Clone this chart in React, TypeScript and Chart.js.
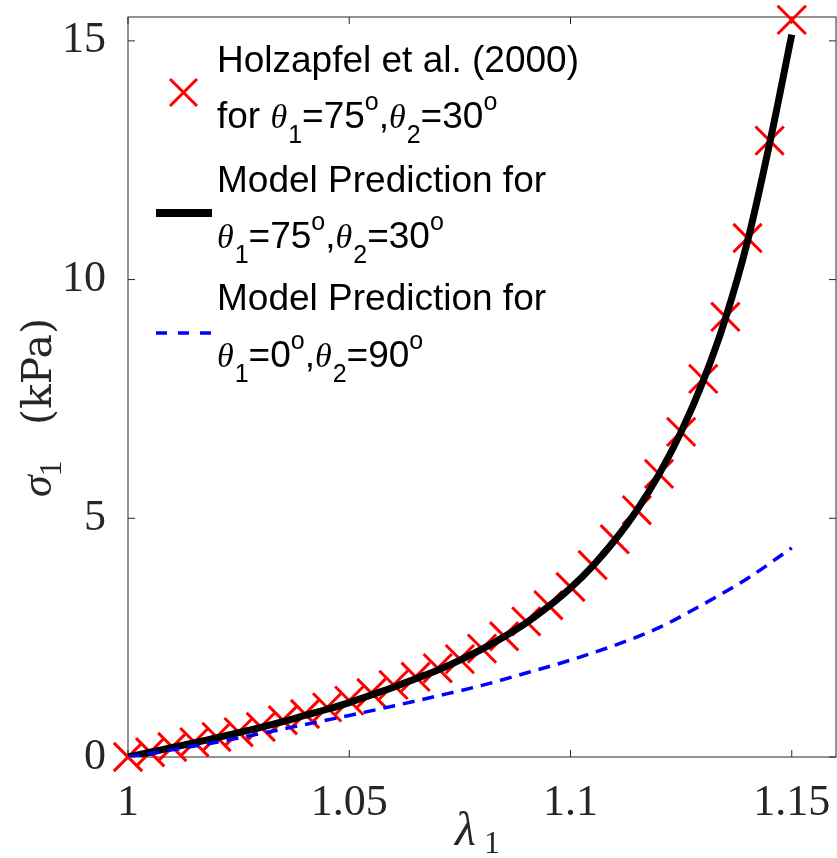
import React, { useEffect, useRef } from "react";
import { Chart, registerables } from "chart.js";

Chart.register(...registerables);

// ---- data ----
const lambdaFine = [
  1.0, 1.005, 1.01, 1.015, 1.02, 1.025, 1.03, 1.035, 1.04, 1.045, 1.05,
  1.055, 1.06, 1.065, 1.07, 1.075, 1.08, 1.085, 1.09, 1.095, 1.1,
  1.105, 1.11, 1.115, 1.12, 1.125, 1.13, 1.135, 1.14, 1.145, 1.15,
];
const holzapfelStress = [
  0.0, 0.1, 0.21, 0.31, 0.42, 0.52, 0.63, 0.77, 0.9, 1.04, 1.18,
  1.34, 1.51, 1.68, 1.86, 2.05, 2.27, 2.53, 2.84, 3.18, 3.56,
  4.02, 4.56, 5.17, 5.93, 6.81, 7.92, 9.22, 10.87, 12.91, 15.44,
];
const modelStress7530 = [
  0.0, 0.1, 0.2, 0.3, 0.4, 0.51, 0.62, 0.74, 0.87, 1.0, 1.14,
  1.3, 1.46, 1.64, 1.82, 2.03, 2.26, 2.52, 2.81, 3.15, 3.54,
  4.0, 4.54, 5.17, 5.92, 6.81, 7.88, 9.18, 10.8, 12.85, 15.13,
];
const lambdaCoarse = [
  1.0, 1.01, 1.02, 1.03, 1.04, 1.05, 1.06, 1.07, 1.08, 1.09, 1.1,
  1.11, 1.12, 1.13, 1.14, 1.15,
];
const modelStress090 = [
  0.0, 0.15, 0.31, 0.49, 0.68, 0.87, 1.07, 1.28, 1.5, 1.76, 2.03,
  2.34, 2.71, 3.2, 3.74, 4.38,
];
const xTicks = [1, 1.05, 1.1, 1.15];
const xTickLabels = ["1", "1.05", "1.1", "1.15"];
const yTicks = [0, 5, 10, 15];
const yTickLabels = ["0", "5", "10", "15"];

type Seg = { t: string; k: "n" | "th" | "sub" | "sup" };

const legendLines: { baseline: number; segs: Seg[] }[] = [
  { baseline: 72, segs: [{ t: "Holzapfel et al. (2000)", k: "n" }] },
  {
    baseline: 128,
    segs: [
      { t: "for ", k: "n" }, { t: "θ", k: "th" }, { t: "1", k: "sub" },
      { t: "=75", k: "n" }, { t: "o", k: "sup" }, { t: ",", k: "n" },
      { t: "θ", k: "th" }, { t: "2", k: "sub" }, { t: "=30", k: "n" },
      { t: "o", k: "sup" },
    ],
  },
  { baseline: 192, segs: [{ t: "Model Prediction for", k: "n" }] },
  {
    baseline: 248,
    segs: [
      { t: "θ", k: "th" }, { t: "1", k: "sub" }, { t: "=75", k: "n" },
      { t: "o", k: "sup" }, { t: ",", k: "n" }, { t: "θ", k: "th" },
      { t: "2", k: "sub" }, { t: "=30", k: "n" }, { t: "o", k: "sup" },
    ],
  },
  { baseline: 310, segs: [{ t: "Model Prediction for", k: "n" }] },
  {
    baseline: 367,
    segs: [
      { t: "θ", k: "th" }, { t: "1", k: "sub" }, { t: "=0", k: "n" },
      { t: "o", k: "sup" }, { t: ",", k: "n" }, { t: "θ", k: "th" },
      { t: "2", k: "sub" }, { t: "=90", k: "n" }, { t: "o", k: "sup" },
    ],
  },
];

const SANS = '"Liberation Sans", Arial, sans-serif';
const SERIF = '"Liberation Serif", "Times New Roman", serif';
const WIDE_SERIF = '"DejaVu Serif", "Liberation Serif", serif';

const segFont = (k: Seg["k"]) =>
  k === "n" ? `37px ${SANS}` : k === "th" ? `italic 34px ${SERIF}` : `25px ${SANS}`;
const segDy = (k: Seg["k"]) => (k === "sub" ? 15 : k === "sup" ? -18 : 0);

const framePlugin = {
  id: "frame",
  beforeDatasetsDraw(chart: any) {
    const { ctx, chartArea } = chart;
    const { left, right, top, bottom } = chartArea;
    const xs = chart.scales.x;
    const ys = chart.scales.y;
    ctx.save();
    ctx.strokeStyle = "#262626";
    ctx.lineWidth = 1;
    ctx.strokeRect(left, top, right - left, bottom - top);
    ctx.beginPath();
    xTicks.forEach((v) => {
      const p = xs.getPixelForValue(v);
      ctx.moveTo(p, bottom);
      ctx.lineTo(p, bottom - 7);
      ctx.moveTo(p, top);
      ctx.lineTo(p, top + 7);
    });
    yTicks.forEach((v) => {
      const p = ys.getPixelForValue(v);
      ctx.moveTo(left, p);
      ctx.lineTo(left + 7, p);
      ctx.moveTo(right, p);
      ctx.lineTo(right - 7, p);
    });
    ctx.stroke();
    ctx.restore();
  },
};

const annotPlugin = {
  id: "annot",
  afterDraw(chart: any) {
    const { ctx } = chart;
    ctx.save();
    // legend text
    ctx.fillStyle = "#000";
    ctx.textBaseline = "alphabetic";
    ctx.textAlign = "left";
    legendLines.forEach((line) => {
      let x = 217;
      line.segs.forEach((s) => {
        ctx.font = segFont(s.k);
        ctx.fillText(s.t, x, line.baseline + segDy(s.k));
        x += ctx.measureText(s.t).width + (s.k === "th" ? 1 : 0);
      });
    });
    // legend symbols
    ctx.strokeStyle = "#ff0000";
    ctx.lineWidth = 3;
    ctx.beginPath();
    ctx.moveTo(170, 79);
    ctx.lineTo(197, 106);
    ctx.moveTo(170, 106);
    ctx.lineTo(197, 79);
    ctx.stroke();
    ctx.strokeStyle = "#000";
    ctx.lineWidth = 8;
    ctx.beginPath();
    ctx.moveTo(156, 213);
    ctx.lineTo(212, 213);
    ctx.stroke();
    ctx.strokeStyle = "#0000ff";
    ctx.lineWidth = 3.5;
    ctx.setLineDash([11, 11]);
    ctx.beginPath();
    ctx.moveTo(156, 333);
    ctx.lineTo(212, 333);
    ctx.stroke();
    ctx.setLineDash([]);

    // axis titles
    ctx.fillStyle = "#262626";
    // x title
    ctx.font = `italic 48px ${SERIF}`;
    ctx.fillText("λ", 455, 845);
    ctx.font = `32px ${SERIF}`;
    ctx.fillText("1", 484, 853);
    // y title
    ctx.translate(51, 497);
    ctx.rotate(-Math.PI / 2);
    ctx.font = `italic 44px ${SERIF}`;
    ctx.fillText("σ", 0, 0);
    const sw = ctx.measureText("σ").width;
    ctx.font = `31px ${SERIF}`;
    ctx.fillText("1", sw - 1, 10);
    ctx.font = `41px ${WIDE_SERIF}`;
    ctx.fillText("(kPa)", 72, 0);
    ctx.restore();
  },
};

export default function App() {
  const ref = useRef<HTMLCanvasElement | null>(null);

  useEffect(() => {
    if (!ref.current) return;
    const chart = new Chart(ref.current, {
      type: "scatter",
      data: {
        datasets: [
          {
            label: "Model Prediction for θ1=0°,θ2=90°",
            data: lambdaCoarse.map((x, i) => ({ x, y: modelStress090[i] })),
            showLine: true,
            borderColor: "#0000ff",
            borderWidth: 3.5,
            borderDash: [12, 8],
            pointRadius: 0,
            cubicInterpolationMode: "monotone",
            order: 1,
          } as any,
          {
            label: "Model Prediction for θ1=75°,θ2=30°",
            data: lambdaFine.map((x, i) => ({ x, y: modelStress7530[i] })),
            showLine: true,
            borderColor: "#000000",
            borderWidth: 7,
            pointRadius: 0,
            cubicInterpolationMode: "monotone",
            order: 2,
          } as any,
          {
            label: "Holzapfel et al. (2000) for θ1=75°,θ2=30°",
            data: lambdaFine.map((x, i) => ({ x, y: holzapfelStress[i] })),
            showLine: false,
            pointStyle: "crossRot",
            pointRadius: 20,
            pointBorderWidth: 3,
            pointBorderColor: "#ff0000",
            pointBackgroundColor: "#ff0000",
            clip: false,
            order: 3,
          } as any,
        ],
      },
      options: {
        animation: false,
        responsive: false,
        maintainAspectRatio: false,
        layout: { autoPadding: false, padding: { top: 17, right: 1, left: 0, bottom: 0 } },
        plugins: {
          legend: { display: false },
          tooltip: { enabled: false },
        },
        scales: {
          x: {
            type: "linear",
            min: 1,
            max: 1.16,
            grid: { display: false },
            border: { display: false },
            ticks: {
              font: { family: SERIF, size: 44 },
              color: "#262626",
              padding: 12,
              maxRotation: 0,
              autoSkip: false,
              includeBounds: false,
              callback: (v: any) => {
                const i = xTicks.indexOf(v);
                return i >= 0 ? xTickLabels[i] : "";
              },
            },
            afterBuildTicks: (s: any) => {
              s.ticks = xTicks.map((v) => ({ value: v }));
            },
            afterFit: (s: any) => {
              s.height = 101;
              s.paddingLeft = 0;
              s.paddingRight = 0;
            },
          },
          y: {
            type: "linear",
            min: 0,
            max: 15.5,
            grid: { display: false },
            border: { display: false },
            ticks: {
              font: { family: SERIF, size: 44 },
              color: "#262626",
              padding: 14,
              autoSkip: false,
              includeBounds: false,
              callback: (v: any) => {
                const i = yTicks.indexOf(v);
                return i >= 0 ? yTickLabels[i] : "";
              },
            },
            afterBuildTicks: (s: any) => {
              s.ticks = yTicks.map((v) => ({ value: v }));
            },
            afterFit: (s: any) => {
              s.width = 128;
              s.paddingTop = 0;
              s.paddingBottom = 0;
            },
          },
        },
      } as any,
      plugins: [framePlugin, annotPlugin],
    });
    return () => chart.destroy();
  }, []);

  return (
    <div style={{ position: "fixed", left: 0, top: 0, width: 837, height: 858, background: "#fff" }}>
      <canvas ref={ref} width={837} height={858} style={{ display: "block" }} />
    </div>
  );
}
